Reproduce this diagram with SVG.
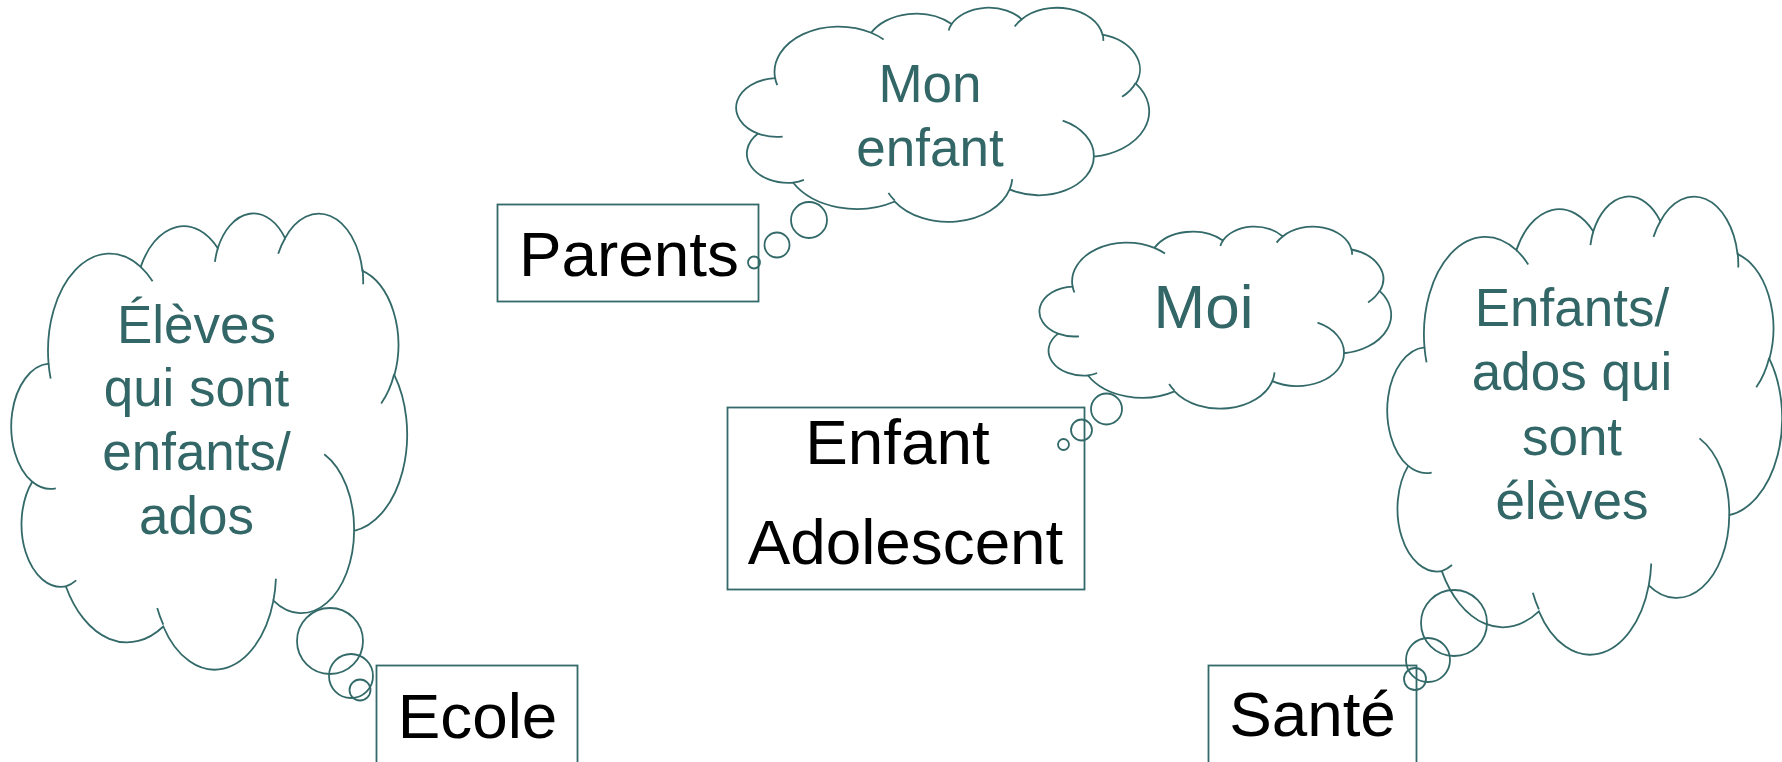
<svg xmlns="http://www.w3.org/2000/svg" xmlns:xlink="http://www.w3.org/1999/xlink" width="1782" height="762" viewBox="0 0 1782 762">
<style>
.ln{fill:none;stroke:#336A69;stroke-width:1.8;vector-effect:non-scaling-stroke}
.box{fill:none;stroke:#336A69;stroke-width:1.8}
.bub{fill:none;stroke:#336A69;stroke-width:1.8}
.ct{font-family:"Liberation Sans",Arial,sans-serif;font-size:53px;fill:#336666;text-anchor:middle}
.bt{font-family:"Liberation Sans",Arial,sans-serif;font-size:63.8px;fill:#000;text-anchor:middle}
</style>
<defs>
<g id="cloud">
<path class="ln" d="M3900 14370 A6753 9190 0 0 1 14003 5201 A5333 7267 0 0 1 22455 3431 A4365 5945 0 0 1 29832 2481 A4857 6595 0 0 1 38316 5577 A5333 7273 0 0 1 41817 15461 A6775 9220 0 0 1 37402 30203 A5785 7867 0 0 1 28554 36814 A6752 9215 0 0 1 16479 39266 A7720 10543 0 0 1 5801 35475 A4360 5918 0 0 1 2109 25553 A4345 5945 0 0 1 3900 14370 Z"/>
<path class="ln" d="M14000 5192 A6753 9190 0 0 1 15306 6553 M22141 4720 A4365 5945 0 0 1 22455 3431 M29078 3952 A4857 6595 0 0 1 29832 2481 M38324 5426 A4857 6595 0 0 1 38393 6840 M41798 15354 A5333 7273 0 0 1 40368 18137 M34129 22954 A5785 7867 0 0 1 37402 30203 M28827 34751 A6752 9215 0 0 1 28554 36814 M16478 39090 A6752 9215 0 0 1 15811 37523 M6928 34899 A4360 5918 0 0 1 5801 35475 M4693 26177 A4345 5945 0 0 1 2109 25553 M4127 15789 A6753 9190 0 0 1 3900 14370"/>
</g>
</defs>
<rect width="1782" height="762" fill="#fff"/>

<g id="cloud-mon-enfant">
<use xlink:href="#cloud" href="#cloud" transform="translate(738 7) scale(0.0095139 0.0049537)"/>
<circle class="bub" cx="809" cy="220" r="18"/>
<circle class="bub" cx="777" cy="245" r="12.5"/>
<circle class="bub" cx="754" cy="262.5" r="6"/>
<text class="ct" x="930" y="102">Mon</text>
<text class="ct" x="930" y="166">enfant</text>
</g>

<g id="cloud-moi">
<use xlink:href="#cloud" href="#cloud" transform="translate(1041 226) scale(0.0081019 0.0042130)"/>
<circle class="bub" cx="1106.5" cy="409" r="15.5"/>
<circle class="bub" cx="1081.5" cy="430" r="10.5"/>
<circle class="bub" cx="1063.5" cy="444.5" r="5.5"/>
<text class="ct" x="1203.5" y="328" style="font-size:62px">Moi</text>
</g>

<g id="cloud-eleves">
<use xlink:href="#cloud" href="#cloud" transform="translate(13 212) scale(0.0091204 0.0105556)"/>
<circle class="bub" cx="330" cy="641" r="33"/>
<circle class="bub" cx="351" cy="676" r="22"/>
<circle class="bub" cx="360" cy="690" r="10.5"/>
<text class="ct" x="196.5" y="343">Élèves</text>
<text class="ct" x="196.5" y="406">qui sont</text>
<text class="ct" x="196.5" y="470">enfants/</text>
<text class="ct" x="196.5" y="534">ados</text>
</g>

<g id="cloud-enfants">
<use xlink:href="#cloud" href="#cloud" transform="translate(1389 195) scale(0.0090972 0.0106019)"/>
<circle class="bub" cx="1454" cy="623" r="33"/>
<circle class="bub" cx="1428" cy="660" r="22"/>
<circle class="bub" cx="1415" cy="679" r="11"/>
<text class="ct" x="1572" y="326">Enfants/</text>
<text class="ct" x="1572" y="390">ados qui</text>
<text class="ct" x="1572" y="455">sont</text>
<text class="ct" x="1572" y="519">élèves</text>
</g>

<g id="node-parents">
<rect class="box" x="497.5" y="204.5" width="261" height="97"/>
<text class="bt" x="629" y="276">Parents</text>
</g>

<g id="node-enfant">
<rect class="box" x="727.5" y="407.5" width="357" height="182"/>
<text class="bt" x="897.5" y="464">Enfant</text>
<text class="bt" x="905.5" y="564">Adolescent</text>
</g>

<g id="node-ecole">
<rect class="box" x="376.5" y="665.5" width="201" height="110"/>
<text class="bt" x="477.5" y="738">Ecole</text>
</g>

<g id="node-sante">
<rect class="box" x="1208.5" y="665.5" width="208" height="110"/>
<text class="bt" x="1312.5" y="736">Santé</text>
</g>
</svg>
